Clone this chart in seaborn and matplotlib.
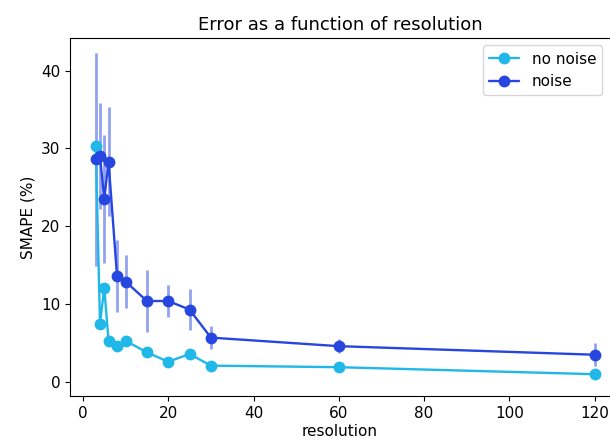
import matplotlib
matplotlib.use("Agg")
import matplotlib.pyplot as plt
import seaborn as sns
import pandas as pd

sns.set_style("ticks")
plt.rcParams['font.family'] = ['DejaVu Sans']
plt.rcParams.update({"text.color": "black", "axes.labelcolor": "black",
                     "xtick.color": "black", "ytick.color": "black", "axes.edgecolor": "black"})

resolution = [3, 4, 5, 6, 8, 10, 15, 20, 25, 30, 60, 120]
no_noise = [30.3, 7.5, 12.1, 5.3, 4.6, 5.3, 3.8, 2.6, 3.6, 2.1, 1.9, 1.0]
noise = [28.6, 29.0, 23.5, 28.3, 13.6, 12.9, 10.4, 10.4, 9.3, 5.7, 4.6, 3.5]
noise_err = [13.7, 6.8, 8.2, 7.0, 4.6, 3.4, 4.0, 2.1, 2.6, 1.5, 0.9, 1.5]

df = pd.DataFrame({"resolution": resolution * 2,
                   "SMAPE": no_noise + noise,
                   "series": ["no noise"] * len(resolution) + ["noise"] * len(resolution)})

fig = plt.figure(figsize=(6.1, 4.4), dpi=100)
ax = fig.add_axes([0.115, 0.1, 0.885, 0.814])
ax.errorbar(resolution, noise, yerr=noise_err, fmt="none", ecolor="#2746e0", alpha=0.5, lw=2, zorder=1)
sns.lineplot(data=df, x="resolution", y="SMAPE", hue="series",
             palette={"no noise": "#1fb8e8", "noise": "#2746e0"},
             marker="o", markersize=8.5, markeredgewidth=0, lw=1.7, ax=ax, zorder=3)
ax.set_xlim(-3, 123.6)
ax.set_ylim(-1.8, 44.2)
ax.set_xticks([0, 20, 40, 60, 80, 100, 120])
ax.set_yticks([0, 10, 20, 30, 40])
ax.spines['right'].set_visible(False)
ax.set_xlabel("resolution", fontsize=11, labelpad=2)
ax.set_ylabel("SMAPE (%)", fontsize=11)
ax.tick_params(labelsize=11)
ax.set_title("Error as a function of resolution", fontsize=13)
ax.legend(title=None, loc="upper right", fontsize=11)
fig.savefig("out.png", dpi=100)
